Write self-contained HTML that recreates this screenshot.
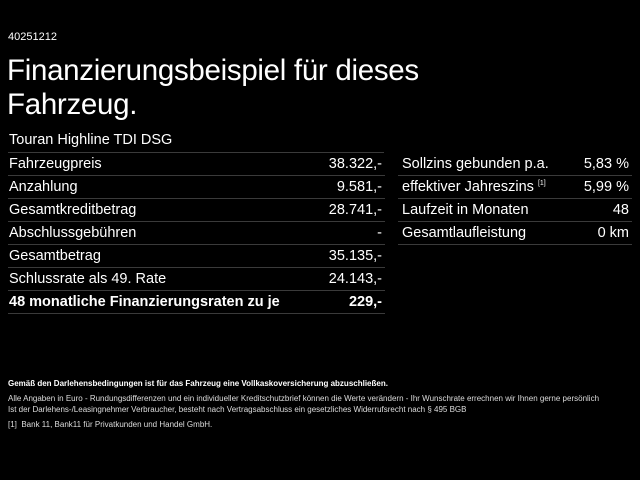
<!DOCTYPE html>
<html><head><meta charset="utf-8"><style>
body{margin:0;width:640px;height:480px;background:#000;color:#fff;font-family:"Liberation Sans",sans-serif;position:relative;overflow:hidden}
.a{position:absolute;white-space:nowrap}
.row{position:absolute;height:23px;line-height:25px;font-size:14.5px;border-bottom:1px solid #3a3a3a}
.row span{position:absolute;right:3px;top:0}
.fn{position:absolute;left:8px;font-size:8px;color:#ddd;white-space:nowrap}
sup{line-height:0}
</style></head><body>
<div class="a" style="left:8px;top:31px;font-size:11px">40251212</div>
<div class="a" style="left:7px;top:54px;font-size:29.5px;line-height:34px;letter-spacing:-0.3px">Finanzierungsbeispiel für dieses<br>Fahrzeug.</div>
<div class="a" style="left:9px;top:132px;font-size:14.5px">Touran Highline TDI DSG</div>
<div style="position:absolute;left:8px;top:152px;width:376px;border-top:1px solid #3a3a3a"></div>
<div class="row" style="left:8px;width:376px;top:152px;padding-left:1px">Fahrzeugpreis<span>38.322,-</span></div>
<div class="row" style="left:8px;width:376px;top:175px;padding-left:1px">Anzahlung<span>9.581,-</span></div>
<div class="row" style="left:8px;width:376px;top:198px;padding-left:1px">Gesamtkreditbetrag<span>28.741,-</span></div>
<div class="row" style="left:8px;width:376px;top:221px;padding-left:1px">Abschlussgebühren<span>-</span></div>
<div class="row" style="left:8px;width:376px;top:244px;padding-left:1px">Gesamtbetrag<span>35.135,-</span></div>
<div class="row" style="left:8px;width:376px;top:267px;padding-left:1px">Schlussrate als 49. Rate<span>24.143,-</span></div>
<div class="row" style="left:8px;width:376px;top:290px;padding-left:1px;font-weight:bold">48 monatliche Finanzierungsraten zu je<span>229,-</span></div>
<div class="row" style="left:398px;width:230px;top:152px;padding-left:4px">Sollzins gebunden p.a.<span>5,83 %</span></div>
<div class="row" style="left:398px;width:230px;top:175px;padding-left:4px">effektiver Jahreszins <sup style="font-size:7px">[1]</sup><span>5,99 %</span></div>
<div class="row" style="left:398px;width:230px;top:198px;padding-left:4px">Laufzeit in Monaten<span>48</span></div>
<div class="row" style="left:398px;width:230px;top:221px;padding-left:4px">Gesamtlaufleistung<span>0 km</span></div>
<div class="fn" style="top:379px;font-weight:bold;color:#fff">Gemäß den Darlehensbedingungen ist für das Fahrzeug eine Vollkaskoversicherung abzuschließen.</div>
<div class="fn" style="top:394px">Alle Angaben in Euro - Rundungsdifferenzen und ein individueller Kreditschutzbrief können die Werte verändern - Ihr Wunschrate errechnen wir Ihnen gerne persönlich</div>
<div class="fn" style="top:405px">Ist der Darlehens-/Leasingnehmer Verbraucher, besteht nach Vertragsabschluss ein gesetzliches Widerrufsrecht nach § 495 BGB</div>
<div class="fn" style="top:420px">[1]&nbsp; Bank 11, Bank11 für Privatkunden und Handel GmbH.</div>
</body></html>
